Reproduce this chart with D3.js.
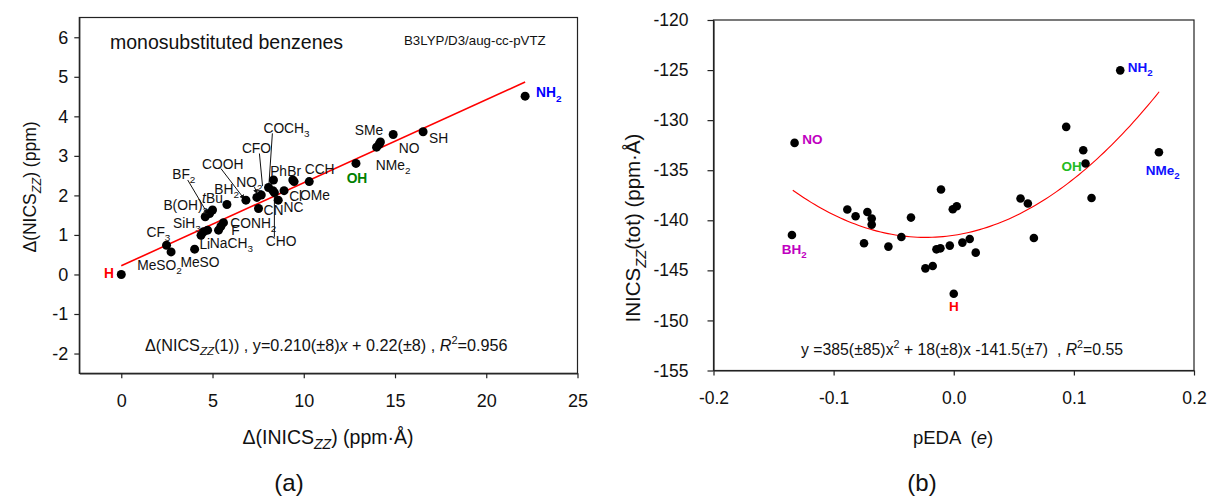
<!DOCTYPE html>
<html><head><meta charset="utf-8">
<script src="https://cdn.jsdelivr.net/npm/d3@7"></script>
<style>
html,body{margin:0;padding:0;background:#fff;}
svg{display:block;font-family:"Liberation Sans",Arial,sans-serif;}
text{white-space:pre;}
</style></head><body>
<svg id="chart" width="1207" height="504"></svg>
<script>
// ---------- DATA: panel (a) ----------
const leftX = [0, 2.48, 2.73, 4.02, 4.37, 4.51, 4.73, 5.33, 5.46, 5.6, 4.6, 4.84, 5.0, 5.79, 6.83, 7.43, 7.67, 7.52, 8.07, 8.31, 8.39, 8.34, 8.6, 8.92, 9.4, 9.47, 10.3, 12.86, 13.99, 14.13, 14.2, 14.9, 16.54, 22.13];
const leftY = [0, 0.74, 0.57, 0.64, 0.99, 1.08, 1.12, 1.12, 1.22, 1.31, 1.46, 1.54, 1.63, 1.77, 1.88, 1.95, 2.01, 1.67, 2.2, 2.12, 2.07, 2.39, 1.88, 2.12, 2.39, 2.35, 2.35, 2.81, 3.22, 3.29, 3.35, 3.54, 3.61, 4.51];
const leftFitCoef = [0.210, 0.22];      // slope, intercept
const leftFitRange = [0, 22.13];
const leftXTicks = [0, 5, 10, 15, 20, 25];
const leftYTicks = [-2, -1, 0, 1, 2, 3, 4, 5, 6];
const leftLabelText = ["H","MeSO{2}","MeSO","Li","Na","CH{3}","F","CONH{2}","CF{3}","SiH{3}","B(OH){2}","[t]Bu","BF{2}","BH{2}","COOH","NO{2}","CFO","COCH{3}","Ph","Br","CCH","Cl","OMe","NC","CN","CHO","OH","SMe","NO","NMe{2}","SH","NH{2}"];
const leftLabelX = [-0.68,0.87,3.24,4.28,4.85,5.82,6.03,5.97,1.38,2.84,2.31,4.43,2.79,5.1,4.43,6.3,6.61,7.79,8.16,9.1,10.05,9.2,9.8,8.89,7.79,7.92,12.35,12.8,15.21,13.95,16.86,22.73];
const leftLabelY = [0.03,0.24,0.31,0.77,0.79,0.79,1.11,1.3,1.07,1.3,1.75,1.93,2.54,2.16,2.79,2.34,3.2,3.7,2.62,2.62,2.66,1.98,2.01,1.7,1.63,0.83,2.43,3.65,3.19,2.77,3.44,4.6];
const leftLabelKind = ["H","n","n","n","n","n","n","n","n","n","n","n","n","n","n","n","n","n","n","n","n","n","n","n","n","n","OH","n","n","n","n","NH2"];
// leader lines [x1,y1,x2,y2,arrow]
const leftLeaders = [
  [3.64,2.39,4.73,1.54,1],
  [5.46,2.68,6.74,1.91,1],
  [7.3,2.21,7.45,2.04,1],
  [7.57,3.06,7.74,2.24,0],
  [8.28,3.57,8.07,2.13,0],
  [8.39,0.95,8.39,1.96,0]
];

// ---------- DATA: panel (b) ----------
const rightX = [-0.1325, -0.1347, -0.0886, -0.0817, -0.0719, -0.0683, -0.0683, -0.0747, -0.0544, -0.0436, -0.0356, -0.0236, -0.0175, -0.0144, -0.0111, -0.0106, -0.0033, -0.0008, 0.0025, 0, 0.0072, 0.0133, 0.0183, 0.0556, 0.0617, 0.0667, 0.0936, 0.1078, 0.1097, 0.1147, 0.1386, 0.1708];
const rightY = [-132.27, -141.47, -138.93, -139.6, -139.17, -139.83, -140.43, -142.3, -142.63, -141.67, -139.73, -144.8, -144.57, -142.9, -142.8, -136.93, -142.53, -138.9, -138.6, -147.33, -142.23, -141.87, -143.23, -137.83, -138.33, -141.77, -130.67, -133.0, -134.33, -137.77, -125.03, -133.2];
const rightFitCoef = [385, 18, -141.5];   // a x^2 + b x + c
const rightFitRange = [-0.134, 0.171];
const rightXTicks = [-0.2, -0.1, 0.0, 0.1, 0.2];
const rightYTicks = [-155, -150, -145, -140, -135, -130, -125, -120];
const rightLabelText = ["NO","BH{2}","H","OH","NH{2}","NMe{2}"];
const rightLabelX = [-0.1261,-0.1431,0,0.0898,0.1448,0.1598];
const rightLabelY = [-131.93,-142.93,-148.57,-134.57,-124.67,-135.0];
const rightLabelKind = ["mag","mag","H","OH","blue","blue"];

// ---------- helpers ----------
const svg = d3.select("#chart");
const FONT = '"Liberation Sans",Arial,sans-serif';

// markup: {sub} <italic sub> ^sup^ [italic]
function rich(sel, s, fs) {
  const parts = s.split(/(\{[^}]*\}|<[^>]*>|\^[^^]*\^|\[[^\]]*\])/);
  let shift = 0;
  parts.forEach(p => {
    if (!p) return;
    let txt = p, target = 0, size = null, ital = false;
    if (p[0] === "{") { txt = p.slice(1, -1); target = 0.3 * fs; size = 0.72 * fs; }
    else if (p[0] === "<") { txt = p.slice(1, -1); target = 0.3 * fs; size = 0.72 * fs; ital = true; }
    else if (p[0] === "^") { txt = p.slice(1, -1); target = -0.38 * fs; size = 0.68 * fs; }
    else if (p[0] === "[") { txt = p.slice(1, -1); ital = true; }
    const t = sel.append("tspan").text(txt);
    if (target - shift !== 0) t.attr("dy", target - shift);
    shift = target;
    if (size) t.attr("font-size", size);
    if (ital) t.attr("font-style", "italic");
  });
}

function frame(x, y) {
  const [x0, x1] = x.range(), [y0, y1] = y.range();
  svg.append("rect").attr("x", x0).attr("y", y1).attr("width", x1 - x0).attr("height", y0 - y1)
    .attr("fill", "none").attr("stroke", "#222").attr("stroke-width", 1.2);
}

function styleAxis(g, fs) {
  g.select(".domain").attr("stroke", "#222").attr("stroke-width", 1.2);
  g.selectAll(".tick line").attr("stroke", "#222").attr("stroke-width", 1.2);
  g.selectAll(".tick text").attr("font-size", fs).attr("font-family", FONT).attr("fill", "#111");
}

svg.append("defs").append("marker").attr("id", "arr").attr("viewBox", "0 0 10 10")
  .attr("refX", 9).attr("refY", 5).attr("markerWidth", 5).attr("markerHeight", 5)
  .attr("orient", "auto").append("path").attr("d", "M0,0 L10,5 L0,10 z").attr("fill", "#111");

// ================= PANEL (a) =================
const xA = d3.scaleLinear().domain([-2.3, 25]).range([79.3, 577.5]);
const yA = d3.scaleLinear().domain([-2.5, 6.5]).range([373.3, 17.5]);

const gxA = svg.append("g").attr("transform", `translate(0,${yA.range()[0]})`)
  .call(d3.axisBottom(xA).tickValues(leftXTicks).tickSize(5).tickSizeOuter(0).tickPadding(16).tickFormat(d => String(d)));
styleAxis(gxA, 18);
const gyA = svg.append("g").attr("transform", `translate(${xA.range()[0]},0)`)
  .call(d3.axisLeft(yA).tickValues(leftYTicks).tickSize(5).tickSizeOuter(0).tickPadding(6).tickFormat(d => String(d)));
styleAxis(gyA, 18);
frame(xA, yA);

svg.append("line")
  .attr("x1", xA(leftFitRange[0])).attr("y1", yA(leftFitCoef[1] + leftFitCoef[0] * leftFitRange[0]))
  .attr("x2", xA(leftFitRange[1])).attr("y2", yA(leftFitCoef[1] + leftFitCoef[0] * leftFitRange[1]))
  .attr("stroke", "#ff0000").attr("stroke-width", 1.6);

leftLeaders.forEach(l => {
  const ln = svg.append("line").attr("x1", xA(l[0])).attr("y1", yA(l[1])).attr("x2", xA(l[2])).attr("y2", yA(l[3]))
    .attr("stroke", "#111").attr("stroke-width", 1);
  if (l[4]) ln.attr("marker-end", "url(#arr)");
});

svg.append("g").selectAll("circle").data(leftX.map((x, i) => [x, leftY[i]])).join("circle")
  .attr("cx", d => xA(d[0])).attr("cy", d => yA(d[1])).attr("r", 4.5).attr("fill", "#000");

const kindStyle = {
  n: { fill: "#111", weight: "normal" },
  H: { fill: "#ff0000", weight: "bold" },
  OH: { fill: "#008000", weight: "bold" },
  NH2: { fill: "#0000ff", weight: "bold" }
};
leftLabelText.forEach((s, i) => {
  const k = kindStyle[leftLabelKind[i]];
  const t = svg.append("text").attr("x", xA(leftLabelX[i])).attr("y", yA(leftLabelY[i]) + 4.8)
    .attr("font-size", 13.8).attr("fill", k.fill).attr("font-weight", k.weight)
    .attr("text-anchor", leftLabelKind[i] === "H" ? "middle" : "start");
  rich(t, s, 13.8);
});

svg.append("text").attr("x", 110).attr("y", 49).attr("font-size", 19.5).attr("fill", "#111").text("monosubstituted benzenes");
svg.append("text").attr("x", 404).attr("y", 45).attr("font-size", 13.3).attr("fill", "#111").text("B3LYP/D3/aug-cc-pVTZ");
rich(svg.append("text").attr("x", 145).attr("y", 350.5).attr("font-size", 16.2).attr("fill", "#111"),
  "Δ(NICS<ZZ>(1)) , y=0.210(±8)[x] + 0.22(±8) , [R]^2^=0.956", 16.2);
rich(svg.append("text").attr("x", 328).attr("y", 443.5).attr("font-size", 19.5).attr("text-anchor", "middle").attr("fill", "#111"),
  "Δ(INICS<ZZ>) (ppm·Å)", 19.5);
rich(svg.append("text").attr("transform", "translate(36,187) rotate(-90)").attr("font-size", 17.5).attr("text-anchor", "middle").attr("fill", "#111"),
  "Δ(NICS<ZZ>) (ppm)", 17.5);
svg.append("text").attr("x", 289).attr("y", 491).attr("font-size", 24).attr("text-anchor", "middle").attr("fill", "#111").text("(a)");

// ================= PANEL (b) =================
const xB = d3.scaleLinear().domain([-0.2, 0.2]).range([713.5, 1194]);
const yB = d3.scaleLinear().domain([-155, -120]).range([370.5, 20]);

const gxB = svg.append("g").attr("transform", `translate(0,${yB.range()[0]})`)
  .call(d3.axisBottom(xB).tickValues(rightXTicks).tickSize(5).tickSizeOuter(0).tickPadding(16).tickFormat(d => d.toFixed(1)));
styleAxis(gxB, 17.5);
const gyB = svg.append("g").attr("transform", `translate(${xB.range()[0]},0)`)
  .call(d3.axisLeft(yB).tickValues(rightYTicks).tickSize(6).tickSizeOuter(0).tickPadding(19).tickFormat(d => String(d)));
styleAxis(gyB, 17.5);
frame(xB, yB);

const curvePts = d3.range(0, 101).map(i => {
  const x = rightFitRange[0] + (rightFitRange[1] - rightFitRange[0]) * i / 100;
  return [x, rightFitCoef[0] * x * x + rightFitCoef[1] * x + rightFitCoef[2]];
});
svg.append("path").attr("d", d3.line().x(d => xB(d[0])).y(d => yB(d[1]))(curvePts))
  .attr("fill", "none").attr("stroke", "#ff0000").attr("stroke-width", 1.1);

svg.append("g").selectAll("circle").data(rightX.map((x, i) => [x, rightY[i]])).join("circle")
  .attr("cx", d => xB(d[0])).attr("cy", d => yB(d[1])).attr("r", 4.3).attr("fill", "#000");

const kindStyleB = { mag: "#c000c0", H: "#ff0000", OH: "#22bb22", blue: "#1010ff" };
rightLabelText.forEach((s, i) => {
  const t = svg.append("text").attr("x", xB(rightLabelX[i])).attr("y", yB(rightLabelY[i]) + 4.8)
    .attr("font-size", 13.5).attr("font-weight", "bold").attr("fill", kindStyleB[rightLabelKind[i]])
    .attr("text-anchor", rightLabelKind[i] === "H" ? "middle" : "start");
  rich(t, s, 13.5);
});

rich(svg.append("text").attr("x", 801).attr("y", 354.5).attr("font-size", 15.8).attr("fill", "#111"),
  "y =385(±85)x^2^ + 18(±8)x -141.5(±7)  , [R]^2^=0.55", 15.8);
rich(svg.append("text").attr("x", 953).attr("y", 443.5).attr("font-size", 18.5).attr("text-anchor", "middle").attr("fill", "#111"),
  "pEDA  ([e])", 18.5);
rich(svg.append("text").attr("transform", "translate(640,228) rotate(-90)").attr("font-size", 20.5).attr("text-anchor", "middle").attr("fill", "#111"),
  "INICS<ZZ>(tot) (ppm·Å)", 20.5);
svg.append("text").attr("x", 922).attr("y", 491).attr("font-size", 24).attr("text-anchor", "middle").attr("fill", "#111").text("(b)");
</script>
</body></html>
